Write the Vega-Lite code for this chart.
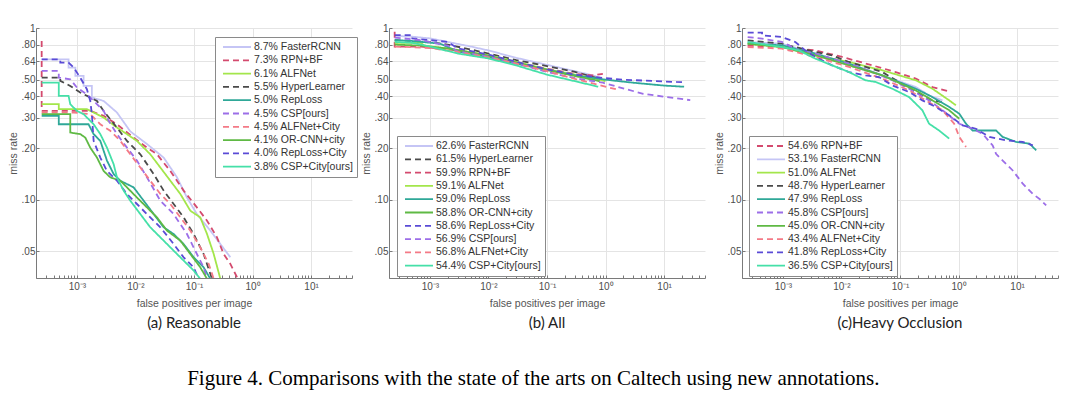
{
"$schema": "https://vega.github.io/schema/vega-lite/v6.json",
"background": "white",
"padding": {"left": 8, "top": 23, "right": 5, "bottom": 2},
"autosize": {"type": "pad"},
"config": {
 "view": {"stroke": null},
 "font": "Liberation Sans",
 "axis": {"labelFont": "Liberation Sans", "labelFontSize": 10, "labelColor": "#4d4d4d", "titleFont": "Liberation Sans", "titleFontSize": 10.5, "titleFontWeight": "normal", "titleColor": "#555555", "domainColor": "#7a7a7a", "tickColor": "#7a7a7a", "gridColor": "#e4e4e4", "gridWidth": 1},
 "title": {"font": "Lato", "fontSize": 15, "fontWeight": "normal", "color": "#222222"}
},
"title": {"text": "Figure 4. Comparisons with the state of the arts on Caltech using new annotations.", "orient": "bottom", "anchor": "middle", "font": "Liberation Serif", "fontSize": 21, "fontWeight": "normal", "color": "#000000", "offset": 37},
"bounds": "flush",
"spacing": 37,
"resolve": {"scale": {"x": "independent", "y": "independent", "color": "independent", "strokeDash": "independent"}, "legend": {"color": "independent", "strokeDash": "independent"}},
"hconcat": [
 {
  "width": 316, "height": 250,
  "title": {"text": "(a) Reasonable", "orient": "bottom", "offset": 7},
  "data": {"name": "a"},
  "mark": {"type": "line", "strokeWidth": 1.8, "clip": true},
  "encoding": {
   "x": {"field": "fppi", "type": "quantitative", "title": "false positives per image", "scale": {"type": "log", "domain": [0.0002, 50], "nice": false},
    "axis": {"values": [0.0002,0.0003,0.0004,0.0005,0.0006,0.0007,0.0008,0.0009,0.001,0.002,0.003,0.004,0.005,0.006,0.007,0.008,0.009,0.01,0.02,0.03,0.04,0.05,0.06,0.07,0.08,0.09,0.1,0.2,0.3,0.4,0.5,0.6,0.7,0.8,0.9,1,2,3,4,5,6,7,8,9,10,20,30,40,50],
     "labelExpr": "datum.value==0.001?'10⁻³':datum.value==0.01?'10⁻²':datum.value==0.1?'10⁻¹':datum.value==1?'10⁰':datum.value==10?'10¹':''",
     "gridOpacity": {"condition": {"test": "datum.value==0.001||datum.value==0.01||datum.value==0.1||datum.value==1||datum.value==10", "value": 1}, "value": 0},
     "tickSize": -3, "labelPadding": 6, "titlePadding": 7, "labelFlush": false, "labelOverlap": false}},
   "y": {"field": "mr", "type": "quantitative", "title": "miss rate", "scale": {"type": "log", "domain": [0.035, 1], "nice": false},
    "axis": {"values": [0.05,0.1,0.2,0.3,0.4,0.5,0.64,0.8,1], "labelExpr": "datum.value==1?'1':replace(format(datum.value,'.2f'),'0.','.')", "tickSize": -3, "labelPadding": 4, "titlePadding": 3, "labelFlush": false, "labelOverlap": false}},
   "color": {"field": "name", "type": "nominal",
    "scale": {"domain": ["8.7% FasterRCNN","7.3% RPN+BF","6.1% ALFNet","5.5% HyperLearner","5.0% RepLoss","4.5% CSP[ours]","4.5% ALFNet+City","4.1% OR-CNN+city","4.0% RepLoss+City","3.8% CSP+City[ours]"],
     "range": ["#c5c5f5","#d44a6e","#a3e64b","#4a4a4a","#2fa898","#9c6ee8","#f47a86","#5fb944","#5a4bd6","#45e0a8"]},
    "legend": {"orient": "none", "legendX": 179, "legendY": 9, "title": null, "symbolType": "M-2.8,0L2.8,0", "symbolSize": 100, "symbolStrokeWidth": 1.8, "labelFont": "Liberation Sans", "labelFontSize": 10.5, "labelColor": "#333333", "strokeColor": "#8a8a8a", "fillColor": "white", "padding": 4, "rowPadding": 1.3, "symbolOffset": 12, "labelOffset": 11, "labelLimit": 300}},
   "strokeDash": {"field": "name", "type": "nominal",
    "scale": {"domain": ["8.7% FasterRCNN","7.3% RPN+BF","6.1% ALFNet","5.5% HyperLearner","5.0% RepLoss","4.5% CSP[ours]","4.5% ALFNet+City","4.1% OR-CNN+city","4.0% RepLoss+City","3.8% CSP+City[ours]"],
     "range": [[1,0],[6,4],[1,0],[6,4],[1,0],[6,4],[6,4],[1,0],[6,4],[1,0]]},
    "legend": {"orient": "none", "legendX": 179, "legendY": 9, "title": null, "symbolType": "M-2.8,0L2.8,0", "symbolSize": 100, "symbolStrokeWidth": 1.8, "labelFont": "Liberation Sans", "labelFontSize": 10.5, "labelColor": "#333333", "strokeColor": "#8a8a8a", "fillColor": "white", "padding": 4, "rowPadding": 1.3, "symbolOffset": 12, "labelOffset": 11, "labelLimit": 300}},
   "order": [{"field": "fppi", "sort": "ascending"}, {"field": "mr", "sort": "descending"}]
  }
 },
 {
  "width": 316, "height": 250,
  "title": {"text": "(b) All", "orient": "bottom", "offset": 7},
  "data": {"name": "b"},
  "mark": {"type": "line", "strokeWidth": 1.8, "clip": true},
  "encoding": {
   "x": {"field": "fppi", "type": "quantitative", "title": "false positives per image", "scale": {"type": "log", "domain": [0.0002, 50], "nice": false},
    "axis": {"values": [0.0002,0.0003,0.0004,0.0005,0.0006,0.0007,0.0008,0.0009,0.001,0.002,0.003,0.004,0.005,0.006,0.007,0.008,0.009,0.01,0.02,0.03,0.04,0.05,0.06,0.07,0.08,0.09,0.1,0.2,0.3,0.4,0.5,0.6,0.7,0.8,0.9,1,2,3,4,5,6,7,8,9,10,20,30,40,50],
     "labelExpr": "datum.value==0.001?'10⁻³':datum.value==0.01?'10⁻²':datum.value==0.1?'10⁻¹':datum.value==1?'10⁰':datum.value==10?'10¹':''",
     "gridOpacity": {"condition": {"test": "datum.value==0.001||datum.value==0.01||datum.value==0.1||datum.value==1||datum.value==10", "value": 1}, "value": 0},
     "tickSize": -3, "labelPadding": 6, "titlePadding": 7, "labelFlush": false, "labelOverlap": false}},
   "y": {"field": "mr", "type": "quantitative", "title": "miss rate", "scale": {"type": "log", "domain": [0.035, 1], "nice": false},
    "axis": {"values": [0.05,0.1,0.2,0.3,0.4,0.5,0.64,0.8,1], "labelExpr": "datum.value==1?'1':replace(format(datum.value,'.2f'),'0.','.')", "tickSize": -3, "labelPadding": 4, "titlePadding": 3, "labelFlush": false, "labelOverlap": false}},
   "color": {"field": "name", "type": "nominal",
    "scale": {"domain": ["62.6% FasterRCNN","61.5% HyperLearner","59.9% RPN+BF","59.1% ALFNet","59.0% RepLoss","58.8% OR-CNN+city","58.6% RepLoss+City","56.9% CSP[ours]","56.8% ALFNet+City","54.4% CSP+City[ours]"],
     "range": ["#c5c5f5","#4a4a4a","#d44a6e","#a3e64b","#2fa898","#5fb944","#5a4bd6","#9c6ee8","#f47a86","#45e0a8"]},
    "legend": {"orient": "none", "legendX": 8, "legendY": 108, "title": null, "symbolType": "M-2.8,0L2.8,0", "symbolSize": 100, "symbolStrokeWidth": 1.8, "labelFont": "Liberation Sans", "labelFontSize": 10.5, "labelColor": "#333333", "strokeColor": "#8a8a8a", "fillColor": "white", "padding": 4, "rowPadding": 1.3, "symbolOffset": 12, "labelOffset": 11, "labelLimit": 300}},
   "strokeDash": {"field": "name", "type": "nominal",
    "scale": {"domain": ["62.6% FasterRCNN","61.5% HyperLearner","59.9% RPN+BF","59.1% ALFNet","59.0% RepLoss","58.8% OR-CNN+city","58.6% RepLoss+City","56.9% CSP[ours]","56.8% ALFNet+City","54.4% CSP+City[ours]"],
     "range": [[1,0],[6,4],[6,4],[1,0],[1,0],[1,0],[6,4],[6,4],[6,4],[1,0]]},
    "legend": {"orient": "none", "legendX": 8, "legendY": 108, "title": null, "symbolType": "M-2.8,0L2.8,0", "symbolSize": 100, "symbolStrokeWidth": 1.8, "labelFont": "Liberation Sans", "labelFontSize": 10.5, "labelColor": "#333333", "strokeColor": "#8a8a8a", "fillColor": "white", "padding": 4, "rowPadding": 1.3, "symbolOffset": 12, "labelOffset": 11, "labelLimit": 300}},
   "order": [{"field": "fppi", "sort": "ascending"}, {"field": "mr", "sort": "descending"}]
  }
 },
 {
  "width": 316, "height": 250,
  "title": {"text": "(c)Heavy Occlusion", "orient": "bottom", "offset": 7},
  "data": {"name": "c"},
  "mark": {"type": "line", "strokeWidth": 1.8, "clip": true},
  "encoding": {
   "x": {"field": "fppi", "type": "quantitative", "title": "false positives per image", "scale": {"type": "log", "domain": [0.0002, 50], "nice": false},
    "axis": {"values": [0.0002,0.0003,0.0004,0.0005,0.0006,0.0007,0.0008,0.0009,0.001,0.002,0.003,0.004,0.005,0.006,0.007,0.008,0.009,0.01,0.02,0.03,0.04,0.05,0.06,0.07,0.08,0.09,0.1,0.2,0.3,0.4,0.5,0.6,0.7,0.8,0.9,1,2,3,4,5,6,7,8,9,10,20,30,40,50],
     "labelExpr": "datum.value==0.001?'10⁻³':datum.value==0.01?'10⁻²':datum.value==0.1?'10⁻¹':datum.value==1?'10⁰':datum.value==10?'10¹':''",
     "gridOpacity": {"condition": {"test": "datum.value==0.001||datum.value==0.01||datum.value==0.1||datum.value==1||datum.value==10", "value": 1}, "value": 0},
     "tickSize": -3, "labelPadding": 6, "titlePadding": 7, "labelFlush": false, "labelOverlap": false}},
   "y": {"field": "mr", "type": "quantitative", "title": "miss rate", "scale": {"type": "log", "domain": [0.035, 1], "nice": false},
    "axis": {"values": [0.05,0.1,0.2,0.3,0.4,0.5,0.64,0.8,1], "labelExpr": "datum.value==1?'1':replace(format(datum.value,'.2f'),'0.','.')", "tickSize": -3, "labelPadding": 4, "titlePadding": 3, "labelFlush": false, "labelOverlap": false}},
   "color": {"field": "name", "type": "nominal",
    "scale": {"domain": ["54.6% RPN+BF","53.1% FasterRCNN","51.0% ALFNet","48.7% HyperLearner","47.9% RepLoss","45.8% CSP[ours]","45.0% OR-CNN+city","43.4% ALFNet+City","41.8% RepLoss+City","36.5% CSP+City[ours]"],
     "range": ["#d44a6e","#c5c5f5","#a3e64b","#4a4a4a","#2fa898","#9c6ee8","#5fb944","#f47a86","#5a4bd6","#45e0a8"]},
    "legend": {"orient": "none", "legendX": 7, "legendY": 108, "title": null, "symbolType": "M-2.8,0L2.8,0", "symbolSize": 100, "symbolStrokeWidth": 1.8, "labelFont": "Liberation Sans", "labelFontSize": 10.5, "labelColor": "#333333", "strokeColor": "#8a8a8a", "fillColor": "white", "padding": 4, "rowPadding": 1.3, "symbolOffset": 12, "labelOffset": 11, "labelLimit": 300}},
   "strokeDash": {"field": "name", "type": "nominal",
    "scale": {"domain": ["54.6% RPN+BF","53.1% FasterRCNN","51.0% ALFNet","48.7% HyperLearner","47.9% RepLoss","45.8% CSP[ours]","45.0% OR-CNN+city","43.4% ALFNet+City","41.8% RepLoss+City","36.5% CSP+City[ours]"],
     "range": [[6,4],[1,0],[1,0],[6,4],[1,0],[6,4],[1,0],[6,4],[6,4],[1,0]]},
    "legend": {"orient": "none", "legendX": 7, "legendY": 108, "title": null, "symbolType": "M-2.8,0L2.8,0", "symbolSize": 100, "symbolStrokeWidth": 1.8, "labelFont": "Liberation Sans", "labelFontSize": 10.5, "labelColor": "#333333", "strokeColor": "#8a8a8a", "fillColor": "white", "padding": 4, "rowPadding": 1.3, "symbolOffset": 12, "labelOffset": 11, "labelLimit": 300}},
   "order": [{"field": "fppi", "sort": "ascending"}, {"field": "mr", "sort": "descending"}]
  }
 }
],
"datasets": {
 "a": [
  {"name":"8.7% FasterRCNN","fppi":0.00025,"mr":0.657},{"name":"8.7% FasterRCNN","fppi":0.00072,"mr":0.657},{"name":"8.7% FasterRCNN","fppi":0.00072,"mr":0.588},{"name":"8.7% FasterRCNN","fppi":0.00094,"mr":0.588},{"name":"8.7% FasterRCNN","fppi":0.00094,"mr":0.526},{"name":"8.7% FasterRCNN","fppi":0.0013,"mr":0.526},{"name":"8.7% FasterRCNN","fppi":0.0013,"mr":0.46},{"name":"8.7% FasterRCNN","fppi":0.0018,"mr":0.46},{"name":"8.7% FasterRCNN","fppi":0.0018,"mr":0.394},{"name":"8.7% FasterRCNN","fppi":0.00286,"mr":0.376},{"name":"8.7% FasterRCNN","fppi":0.00483,"mr":0.322},{"name":"8.7% FasterRCNN","fppi":0.00816,"mr":0.25},{"name":"8.7% FasterRCNN","fppi":0.0157,"mr":0.211},{"name":"8.7% FasterRCNN","fppi":0.0303,"mr":0.176},{"name":"8.7% FasterRCNN","fppi":0.0512,"mr":0.135},{"name":"8.7% FasterRCNN","fppi":0.0759,"mr":0.103},{"name":"8.7% FasterRCNN","fppi":0.112,"mr":0.0825},{"name":"8.7% FasterRCNN","fppi":0.19,"mr":0.0661},{"name":"8.7% FasterRCNN","fppi":0.282,"mr":0.0552},{"name":"8.7% FasterRCNN","fppi":0.418,"mr":0.0462},
  {"name":"7.3% RPN+BF","fppi":0.00025,"mr":0.84},{"name":"7.3% RPN+BF","fppi":0.00025,"mr":0.329},{"name":"7.3% RPN+BF","fppi":0.00169,"mr":0.329},{"name":"7.3% RPN+BF","fppi":0.00286,"mr":0.308},{"name":"7.3% RPN+BF","fppi":0.00483,"mr":0.275},{"name":"7.3% RPN+BF","fppi":0.0093,"mr":0.23},{"name":"7.3% RPN+BF","fppi":0.0157,"mr":0.201},{"name":"7.3% RPN+BF","fppi":0.0233,"mr":0.184},{"name":"7.3% RPN+BF","fppi":0.0394,"mr":0.147},{"name":"7.3% RPN+BF","fppi":0.0665,"mr":0.113},{"name":"7.3% RPN+BF","fppi":0.112,"mr":0.0902},{"name":"7.3% RPN+BF","fppi":0.167,"mr":0.0755},{"name":"7.3% RPN+BF","fppi":0.247,"mr":0.0604},{"name":"7.3% RPN+BF","fppi":0.321,"mr":0.0483},{"name":"7.3% RPN+BF","fppi":0.418,"mr":0.0423},{"name":"7.3% RPN+BF","fppi":0.58,"mr":0.0338},
  {"name":"6.1% ALFNet","fppi":0.00025,"mr":0.36},{"name":"6.1% ALFNet","fppi":0.00049,"mr":0.36},{"name":"6.1% ALFNet","fppi":0.00049,"mr":0.337},{"name":"6.1% ALFNet","fppi":0.00148,"mr":0.337},{"name":"6.1% ALFNet","fppi":0.00193,"mr":0.322},{"name":"6.1% ALFNet","fppi":0.00286,"mr":0.301},{"name":"6.1% ALFNet","fppi":0.00483,"mr":0.263},{"name":"6.1% ALFNet","fppi":0.00716,"mr":0.241},{"name":"6.1% ALFNet","fppi":0.0106,"mr":0.22},{"name":"6.1% ALFNet","fppi":0.0179,"mr":0.184},{"name":"6.1% ALFNet","fppi":0.0266,"mr":0.154},{"name":"6.1% ALFNet","fppi":0.0394,"mr":0.129},{"name":"6.1% ALFNet","fppi":0.0584,"mr":0.108},{"name":"6.1% ALFNet","fppi":0.0865,"mr":0.0863},{"name":"6.1% ALFNet","fppi":0.128,"mr":0.0789},{"name":"6.1% ALFNet","fppi":0.167,"mr":0.0631},{"name":"6.1% ALFNet","fppi":0.217,"mr":0.0483},{"name":"6.1% ALFNet","fppi":0.282,"mr":0.0346},
  {"name":"5.5% HyperLearner","fppi":0.00025,"mr":0.514},{"name":"5.5% HyperLearner","fppi":0.00052,"mr":0.514},{"name":"5.5% HyperLearner","fppi":0.00052,"mr":0.492},{"name":"5.5% HyperLearner","fppi":0.00077,"mr":0.46},{"name":"5.5% HyperLearner","fppi":0.00114,"mr":0.421},{"name":"5.5% HyperLearner","fppi":0.00169,"mr":0.394},{"name":"5.5% HyperLearner","fppi":0.0022,"mr":0.376},{"name":"5.5% HyperLearner","fppi":0.00286,"mr":0.329},{"name":"5.5% HyperLearner","fppi":0.00371,"mr":0.294},{"name":"5.5% HyperLearner","fppi":0.00483,"mr":0.263},{"name":"5.5% HyperLearner","fppi":0.00716,"mr":0.22},{"name":"5.5% HyperLearner","fppi":0.0121,"mr":0.184},{"name":"5.5% HyperLearner","fppi":0.0205,"mr":0.141},{"name":"5.5% HyperLearner","fppi":0.0303,"mr":0.113},{"name":"5.5% HyperLearner","fppi":0.0449,"mr":0.0944},{"name":"5.5% HyperLearner","fppi":0.0665,"mr":0.0789},{"name":"5.5% HyperLearner","fppi":0.0986,"mr":0.0631},{"name":"5.5% HyperLearner","fppi":0.146,"mr":0.0483},{"name":"5.5% HyperLearner","fppi":0.203,"mr":0.0346},
  {"name":"5.0% RepLoss","fppi":0.00025,"mr":0.308},{"name":"5.0% RepLoss","fppi":0.00049,"mr":0.308},{"name":"5.0% RepLoss","fppi":0.00049,"mr":0.275},{"name":"5.0% RepLoss","fppi":0.00158,"mr":0.275},{"name":"5.0% RepLoss","fppi":0.00193,"mr":0.241},{"name":"5.0% RepLoss","fppi":0.00251,"mr":0.22},{"name":"5.0% RepLoss","fppi":0.00326,"mr":0.169},{"name":"5.0% RepLoss","fppi":0.00424,"mr":0.141},{"name":"5.0% RepLoss","fppi":0.00551,"mr":0.129},{"name":"5.0% RepLoss","fppi":0.0093,"mr":0.118},{"name":"5.0% RepLoss","fppi":0.0138,"mr":0.0987},{"name":"5.0% RepLoss","fppi":0.0205,"mr":0.0825},{"name":"5.0% RepLoss","fppi":0.0303,"mr":0.0691},{"name":"5.0% RepLoss","fppi":0.0449,"mr":0.0631},{"name":"5.0% RepLoss","fppi":0.0665,"mr":0.0552},{"name":"5.0% RepLoss","fppi":0.0986,"mr":0.0462},{"name":"5.0% RepLoss","fppi":0.146,"mr":0.0404},{"name":"5.0% RepLoss","fppi":0.19,"mr":0.0346},
  {"name":"4.5% CSP[ours]","fppi":0.00025,"mr":0.562},{"name":"4.5% CSP[ours]","fppi":0.00049,"mr":0.562},{"name":"4.5% CSP[ours]","fppi":0.00049,"mr":0.514},{"name":"4.5% CSP[ours]","fppi":0.00077,"mr":0.503},{"name":"4.5% CSP[ours]","fppi":0.001,"mr":0.45},{"name":"4.5% CSP[ours]","fppi":0.00148,"mr":0.411},{"name":"4.5% CSP[ours]","fppi":0.00193,"mr":0.376},{"name":"4.5% CSP[ours]","fppi":0.00286,"mr":0.329},{"name":"4.5% CSP[ours]","fppi":0.00348,"mr":0.288},{"name":"4.5% CSP[ours]","fppi":0.00483,"mr":0.241},{"name":"4.5% CSP[ours]","fppi":0.00716,"mr":0.201},{"name":"4.5% CSP[ours]","fppi":0.0106,"mr":0.169},{"name":"4.5% CSP[ours]","fppi":0.0157,"mr":0.135},{"name":"4.5% CSP[ours]","fppi":0.0266,"mr":0.0987},{"name":"4.5% CSP[ours]","fppi":0.0449,"mr":0.0825},{"name":"4.5% CSP[ours]","fppi":0.0759,"mr":0.0631},{"name":"4.5% CSP[ours]","fppi":0.112,"mr":0.0483},{"name":"4.5% CSP[ours]","fppi":0.146,"mr":0.0404},{"name":"4.5% CSP[ours]","fppi":0.167,"mr":0.0346},
  {"name":"4.5% ALFNet+City","fppi":0.00025,"mr":0.322},{"name":"4.5% ALFNet+City","fppi":0.00088,"mr":0.322},{"name":"4.5% ALFNet+City","fppi":0.00169,"mr":0.315},{"name":"4.5% ALFNet+City","fppi":0.00251,"mr":0.275},{"name":"4.5% ALFNet+City","fppi":0.00371,"mr":0.252},{"name":"4.5% ALFNet+City","fppi":0.00551,"mr":0.22},{"name":"4.5% ALFNet+City","fppi":0.00816,"mr":0.184},{"name":"4.5% ALFNet+City","fppi":0.0121,"mr":0.154},{"name":"4.5% ALFNet+City","fppi":0.0179,"mr":0.129},{"name":"4.5% ALFNet+City","fppi":0.0266,"mr":0.108},{"name":"4.5% ALFNet+City","fppi":0.0394,"mr":0.0944},{"name":"4.5% ALFNet+City","fppi":0.0584,"mr":0.0789},{"name":"4.5% ALFNet+City","fppi":0.0865,"mr":0.0661},{"name":"4.5% ALFNet+City","fppi":0.128,"mr":0.0528},{"name":"4.5% ALFNet+City","fppi":0.178,"mr":0.0423},{"name":"4.5% ALFNet+City","fppi":0.217,"mr":0.0346},
  {"name":"4.1% OR-CNN+city","fppi":0.00025,"mr":0.315},{"name":"4.1% OR-CNN+city","fppi":0.00077,"mr":0.315},{"name":"4.1% OR-CNN+city","fppi":0.00077,"mr":0.246},{"name":"4.1% OR-CNN+city","fppi":0.00114,"mr":0.241},{"name":"4.1% OR-CNN+city","fppi":0.00139,"mr":0.23},{"name":"4.1% OR-CNN+city","fppi":0.00169,"mr":0.201},{"name":"4.1% OR-CNN+city","fppi":0.0022,"mr":0.176},{"name":"4.1% OR-CNN+city","fppi":0.00286,"mr":0.147},{"name":"4.1% OR-CNN+city","fppi":0.00371,"mr":0.135},{"name":"4.1% OR-CNN+city","fppi":0.00551,"mr":0.129},{"name":"4.1% OR-CNN+city","fppi":0.00716,"mr":0.118},{"name":"4.1% OR-CNN+city","fppi":0.0106,"mr":0.103},{"name":"4.1% OR-CNN+city","fppi":0.0157,"mr":0.0902},{"name":"4.1% OR-CNN+city","fppi":0.0233,"mr":0.0789},{"name":"4.1% OR-CNN+city","fppi":0.0345,"mr":0.0661},{"name":"4.1% OR-CNN+city","fppi":0.0584,"mr":0.0578},{"name":"4.1% OR-CNN+city","fppi":0.0865,"mr":0.0483},{"name":"4.1% OR-CNN+city","fppi":0.128,"mr":0.0404},{"name":"4.1% OR-CNN+city","fppi":0.167,"mr":0.0346},
  {"name":"4.0% RepLoss+City","fppi":0.00025,"mr":0.657},{"name":"4.0% RepLoss+City","fppi":0.00052,"mr":0.657},{"name":"4.0% RepLoss+City","fppi":0.00052,"mr":0.629},{"name":"4.0% RepLoss+City","fppi":0.00072,"mr":0.629},{"name":"4.0% RepLoss+City","fppi":0.00088,"mr":0.588},{"name":"4.0% RepLoss+City","fppi":0.00114,"mr":0.514},{"name":"4.0% RepLoss+City","fppi":0.00148,"mr":0.44},{"name":"4.0% RepLoss+City","fppi":0.00169,"mr":0.376},{"name":"4.0% RepLoss+City","fppi":0.0018,"mr":0.315},{"name":"4.0% RepLoss+City","fppi":0.00193,"mr":0.22},{"name":"4.0% RepLoss+City","fppi":0.00251,"mr":0.176},{"name":"4.0% RepLoss+City","fppi":0.00326,"mr":0.147},{"name":"4.0% RepLoss+City","fppi":0.00483,"mr":0.129},{"name":"4.0% RepLoss+City","fppi":0.00716,"mr":0.108},{"name":"4.0% RepLoss+City","fppi":0.0106,"mr":0.0944},{"name":"4.0% RepLoss+City","fppi":0.0157,"mr":0.0825},{"name":"4.0% RepLoss+City","fppi":0.0266,"mr":0.0691},{"name":"4.0% RepLoss+City","fppi":0.0449,"mr":0.0552},{"name":"4.0% RepLoss+City","fppi":0.0665,"mr":0.0462},{"name":"4.0% RepLoss+City","fppi":0.0986,"mr":0.0404},{"name":"4.0% RepLoss+City","fppi":0.12,"mr":0.0346},
  {"name":"3.8% CSP+City[ours]","fppi":0.00025,"mr":0.481},{"name":"3.8% CSP+City[ours]","fppi":0.00049,"mr":0.481},{"name":"3.8% CSP+City[ours]","fppi":0.00049,"mr":0.402},{"name":"3.8% CSP+City[ours]","fppi":0.00072,"mr":0.402},{"name":"3.8% CSP+City[ours]","fppi":0.00077,"mr":0.36},{"name":"3.8% CSP+City[ours]","fppi":0.001,"mr":0.329},{"name":"3.8% CSP+City[ours]","fppi":0.0013,"mr":0.315},{"name":"3.8% CSP+City[ours]","fppi":0.00193,"mr":0.275},{"name":"3.8% CSP+City[ours]","fppi":0.00251,"mr":0.241},{"name":"3.8% CSP+City[ours]","fppi":0.00326,"mr":0.201},{"name":"3.8% CSP+City[ours]","fppi":0.00424,"mr":0.161},{"name":"3.8% CSP+City[ours]","fppi":0.00483,"mr":0.135},{"name":"3.8% CSP+City[ours]","fppi":0.00628,"mr":0.113},{"name":"3.8% CSP+City[ours]","fppi":0.00816,"mr":0.0987},{"name":"3.8% CSP+City[ours]","fppi":0.0121,"mr":0.0825},{"name":"3.8% CSP+City[ours]","fppi":0.0179,"mr":0.0691},{"name":"3.8% CSP+City[ours]","fppi":0.0266,"mr":0.0604},{"name":"3.8% CSP+City[ours]","fppi":0.0449,"mr":0.0505},{"name":"3.8% CSP+City[ours]","fppi":0.0665,"mr":0.0442},{"name":"3.8% CSP+City[ours]","fppi":0.0986,"mr":0.0387},{"name":"3.8% CSP+City[ours]","fppi":0.128,"mr":0.0346}
 ],
 "b": [
  {"name":"62.6% FasterRCNN","fppi":0.00025,"mr":0.9},{"name":"62.6% FasterRCNN","fppi":0.0005,"mr":0.89},{"name":"62.6% FasterRCNN","fppi":0.001,"mr":0.87},{"name":"62.6% FasterRCNN","fppi":0.002,"mr":0.83},{"name":"62.6% FasterRCNN","fppi":0.005,"mr":0.78},{"name":"62.6% FasterRCNN","fppi":0.01,"mr":0.74},{"name":"62.6% FasterRCNN","fppi":0.03,"mr":0.67},{"name":"62.6% FasterRCNN","fppi":0.1,"mr":0.61},{"name":"62.6% FasterRCNN","fppi":0.3,"mr":0.56},{"name":"62.6% FasterRCNN","fppi":0.6,"mr":0.53},{"name":"62.6% FasterRCNN","fppi":0.85,"mr":0.51},
  {"name":"61.5% HyperLearner","fppi":0.00025,"mr":0.85},{"name":"61.5% HyperLearner","fppi":0.0005,"mr":0.84},{"name":"61.5% HyperLearner","fppi":0.001,"mr":0.83},{"name":"61.5% HyperLearner","fppi":0.002,"mr":0.8},{"name":"61.5% HyperLearner","fppi":0.005,"mr":0.75},{"name":"61.5% HyperLearner","fppi":0.01,"mr":0.71},{"name":"61.5% HyperLearner","fppi":0.03,"mr":0.65},{"name":"61.5% HyperLearner","fppi":0.1,"mr":0.6},{"name":"61.5% HyperLearner","fppi":0.3,"mr":0.555},{"name":"61.5% HyperLearner","fppi":0.6,"mr":0.52},{"name":"61.5% HyperLearner","fppi":0.75,"mr":0.51},
  {"name":"59.9% RPN+BF","fppi":0.00025,"mr":0.95},{"name":"59.9% RPN+BF","fppi":0.00025,"mr":0.78},{"name":"59.9% RPN+BF","fppi":0.0007,"mr":0.78},{"name":"59.9% RPN+BF","fppi":0.001,"mr":0.77},{"name":"59.9% RPN+BF","fppi":0.003,"mr":0.74},{"name":"59.9% RPN+BF","fppi":0.01,"mr":0.69},{"name":"59.9% RPN+BF","fppi":0.03,"mr":0.63},{"name":"59.9% RPN+BF","fppi":0.1,"mr":0.58},{"name":"59.9% RPN+BF","fppi":0.3,"mr":0.54},{"name":"59.9% RPN+BF","fppi":0.6,"mr":0.53},{"name":"59.9% RPN+BF","fppi":0.9,"mr":0.54},
  {"name":"59.1% ALFNet","fppi":0.00025,"mr":0.82},{"name":"59.1% ALFNet","fppi":0.0007,"mr":0.82},{"name":"59.1% ALFNet","fppi":0.0008,"mr":0.79},{"name":"59.1% ALFNet","fppi":0.003,"mr":0.745},{"name":"59.1% ALFNet","fppi":0.01,"mr":0.695},{"name":"59.1% ALFNet","fppi":0.03,"mr":0.635},{"name":"59.1% ALFNet","fppi":0.1,"mr":0.575},{"name":"59.1% ALFNet","fppi":0.3,"mr":0.535},{"name":"59.1% ALFNet","fppi":0.7,"mr":0.505},{"name":"59.1% ALFNet","fppi":1.0,"mr":0.49},
  {"name":"59.0% RepLoss","fppi":0.00025,"mr":0.85},{"name":"59.0% RepLoss","fppi":0.0005,"mr":0.84},{"name":"59.0% RepLoss","fppi":0.0015,"mr":0.81},{"name":"59.0% RepLoss","fppi":0.003,"mr":0.73},{"name":"59.0% RepLoss","fppi":0.01,"mr":0.675},{"name":"59.0% RepLoss","fppi":0.03,"mr":0.62},{"name":"59.0% RepLoss","fppi":0.1,"mr":0.57},{"name":"59.0% RepLoss","fppi":0.3,"mr":0.53},{"name":"59.0% RepLoss","fppi":1,"mr":0.5},{"name":"59.0% RepLoss","fppi":3,"mr":0.48},{"name":"59.0% RepLoss","fppi":10,"mr":0.462},{"name":"59.0% RepLoss","fppi":22,"mr":0.455},
  {"name":"58.8% OR-CNN+city","fppi":0.00025,"mr":0.8},{"name":"58.8% OR-CNN+city","fppi":0.0007,"mr":0.79},{"name":"58.8% OR-CNN+city","fppi":0.002,"mr":0.76},{"name":"58.8% OR-CNN+city","fppi":0.005,"mr":0.72},{"name":"58.8% OR-CNN+city","fppi":0.01,"mr":0.69},{"name":"58.8% OR-CNN+city","fppi":0.03,"mr":0.63},{"name":"58.8% OR-CNN+city","fppi":0.1,"mr":0.57},{"name":"58.8% OR-CNN+city","fppi":0.3,"mr":0.525},{"name":"58.8% OR-CNN+city","fppi":0.8,"mr":0.49},
  {"name":"58.6% RepLoss+City","fppi":0.00025,"mr":0.91},{"name":"58.6% RepLoss+City","fppi":0.0005,"mr":0.91},{"name":"58.6% RepLoss+City","fppi":0.0005,"mr":0.87},{"name":"58.6% RepLoss+City","fppi":0.002,"mr":0.83},{"name":"58.6% RepLoss+City","fppi":0.003,"mr":0.76},{"name":"58.6% RepLoss+City","fppi":0.01,"mr":0.7},{"name":"58.6% RepLoss+City","fppi":0.03,"mr":0.635},{"name":"58.6% RepLoss+City","fppi":0.1,"mr":0.575},{"name":"58.6% RepLoss+City","fppi":0.3,"mr":0.535},{"name":"58.6% RepLoss+City","fppi":1,"mr":0.51},{"name":"58.6% RepLoss+City","fppi":2,"mr":0.5},{"name":"58.6% RepLoss+City","fppi":16,"mr":0.485},{"name":"58.6% RepLoss+City","fppi":22,"mr":0.484},
  {"name":"56.9% CSP[ours]","fppi":0.00025,"mr":0.88},{"name":"56.9% CSP[ours]","fppi":0.0007,"mr":0.85},{"name":"56.9% CSP[ours]","fppi":0.002,"mr":0.79},{"name":"56.9% CSP[ours]","fppi":0.003,"mr":0.73},{"name":"56.9% CSP[ours]","fppi":0.01,"mr":0.68},{"name":"56.9% CSP[ours]","fppi":0.03,"mr":0.62},{"name":"56.9% CSP[ours]","fppi":0.1,"mr":0.555},{"name":"56.9% CSP[ours]","fppi":0.3,"mr":0.51},{"name":"56.9% CSP[ours]","fppi":0.9,"mr":0.48},{"name":"56.9% CSP[ours]","fppi":2,"mr":0.445},{"name":"56.9% CSP[ours]","fppi":4.4,"mr":0.414},{"name":"56.9% CSP[ours]","fppi":10,"mr":0.398},{"name":"56.9% CSP[ours]","fppi":28,"mr":0.38},
  {"name":"56.8% ALFNet+City","fppi":0.00025,"mr":0.78},{"name":"56.8% ALFNet+City","fppi":0.001,"mr":0.765},{"name":"56.8% ALFNet+City","fppi":0.003,"mr":0.725},{"name":"56.8% ALFNet+City","fppi":0.01,"mr":0.675},{"name":"56.8% ALFNet+City","fppi":0.03,"mr":0.62},{"name":"56.8% ALFNet+City","fppi":0.1,"mr":0.56},{"name":"56.8% ALFNet+City","fppi":0.3,"mr":0.505},{"name":"56.8% ALFNet+City","fppi":0.7,"mr":0.47},{"name":"56.8% ALFNet+City","fppi":1.5,"mr":0.44},
  {"name":"54.4% CSP+City[ours]","fppi":0.00025,"mr":0.83},{"name":"54.4% CSP+City[ours]","fppi":0.0005,"mr":0.82},{"name":"54.4% CSP+City[ours]","fppi":0.001,"mr":0.78},{"name":"54.4% CSP+City[ours]","fppi":0.003,"mr":0.71},{"name":"54.4% CSP+City[ours]","fppi":0.01,"mr":0.665},{"name":"54.4% CSP+City[ours]","fppi":0.03,"mr":0.605},{"name":"54.4% CSP+City[ours]","fppi":0.1,"mr":0.535},{"name":"54.4% CSP+City[ours]","fppi":0.3,"mr":0.49},{"name":"54.4% CSP+City[ours]","fppi":0.75,"mr":0.455}
 ],
 "c": [
  {"name":"54.6% RPN+BF","fppi":0.00025,"mr":0.79},{"name":"54.6% RPN+BF","fppi":0.00096,"mr":0.775},{"name":"54.6% RPN+BF","fppi":0.00358,"mr":0.741},{"name":"54.6% RPN+BF","fppi":0.0103,"mr":0.678},{"name":"54.6% RPN+BF","fppi":0.0336,"mr":0.606},{"name":"54.6% RPN+BF","fppi":0.0843,"mr":0.554},{"name":"54.6% RPN+BF","fppi":0.186,"mr":0.507},{"name":"54.6% RPN+BF","fppi":0.358,"mr":0.453},{"name":"54.6% RPN+BF","fppi":0.648,"mr":0.43},
  {"name":"53.1% FasterRCNN","fppi":0.00025,"mr":0.829},{"name":"53.1% FasterRCNN","fppi":0.00096,"mr":0.81},{"name":"53.1% FasterRCNN","fppi":0.00358,"mr":0.709},{"name":"53.1% FasterRCNN","fppi":0.0134,"mr":0.606},{"name":"53.1% FasterRCNN","fppi":0.0498,"mr":0.53},{"name":"53.1% FasterRCNN","fppi":0.186,"mr":0.453},{"name":"53.1% FasterRCNN","fppi":0.314,"mr":0.405},{"name":"53.1% FasterRCNN","fppi":0.532,"mr":0.379},
  {"name":"51.0% ALFNet","fppi":0.00025,"mr":0.81},{"name":"51.0% ALFNet","fppi":0.00096,"mr":0.775},{"name":"51.0% ALFNet","fppi":0.00358,"mr":0.693},{"name":"51.0% ALFNet","fppi":0.0134,"mr":0.634},{"name":"51.0% ALFNet","fppi":0.0498,"mr":0.567},{"name":"51.0% ALFNet","fppi":0.186,"mr":0.496},{"name":"51.0% ALFNet","fppi":0.358,"mr":0.443},{"name":"51.0% ALFNet","fppi":0.692,"mr":0.379},{"name":"51.0% ALFNet","fppi":0.9,"mr":0.355},
  {"name":"48.7% HyperLearner","fppi":0.00025,"mr":0.848},{"name":"48.7% HyperLearner","fppi":0.00096,"mr":0.81},{"name":"48.7% HyperLearner","fppi":0.00358,"mr":0.725},{"name":"48.7% HyperLearner","fppi":0.00692,"mr":0.693},{"name":"48.7% HyperLearner","fppi":0.0134,"mr":0.634},{"name":"48.7% HyperLearner","fppi":0.0258,"mr":0.593},{"name":"48.7% HyperLearner","fppi":0.0498,"mr":0.554},{"name":"48.7% HyperLearner","fppi":0.0962,"mr":0.485},{"name":"48.7% HyperLearner","fppi":0.186,"mr":0.424},{"name":"48.7% HyperLearner","fppi":0.358,"mr":0.379},{"name":"48.7% HyperLearner","fppi":0.532,"mr":0.37},
  {"name":"47.9% RepLoss","fppi":0.00025,"mr":0.81},{"name":"47.9% RepLoss","fppi":0.00096,"mr":0.793},{"name":"47.9% RepLoss","fppi":0.00358,"mr":0.709},{"name":"47.9% RepLoss","fppi":0.0134,"mr":0.62},{"name":"47.9% RepLoss","fppi":0.0498,"mr":0.53},{"name":"47.9% RepLoss","fppi":0.186,"mr":0.443},{"name":"47.9% RepLoss","fppi":0.358,"mr":0.396},{"name":"47.9% RepLoss","fppi":0.692,"mr":0.347},{"name":"47.9% RepLoss","fppi":1.03,"mr":0.317},{"name":"47.9% RepLoss","fppi":1.34,"mr":0.277},{"name":"47.9% RepLoss","fppi":1.74,"mr":0.253},{"name":"47.9% RepLoss","fppi":4.37,"mr":0.253},{"name":"47.9% RepLoss","fppi":5.68,"mr":0.232},{"name":"47.9% RepLoss","fppi":9.62,"mr":0.217},{"name":"47.9% RepLoss","fppi":16.3,"mr":0.212},{"name":"47.9% RepLoss","fppi":21.2,"mr":0.194},
  {"name":"45.8% CSP[ours]","fppi":0.00025,"mr":0.886},{"name":"45.8% CSP[ours]","fppi":0.00044,"mr":0.867},{"name":"45.8% CSP[ours]","fppi":0.00096,"mr":0.829},{"name":"45.8% CSP[ours]","fppi":0.00186,"mr":0.741},{"name":"45.8% CSP[ours]","fppi":0.00358,"mr":0.709},{"name":"45.8% CSP[ours]","fppi":0.0134,"mr":0.62},{"name":"45.8% CSP[ours]","fppi":0.0336,"mr":0.554},{"name":"45.8% CSP[ours]","fppi":0.0739,"mr":0.496},{"name":"45.8% CSP[ours]","fppi":0.143,"mr":0.443},{"name":"45.8% CSP[ours]","fppi":0.314,"mr":0.379},{"name":"45.8% CSP[ours]","fppi":0.532,"mr":0.332},{"name":"45.8% CSP[ours]","fppi":1.03,"mr":0.277},{"name":"45.8% CSP[ours]","fppi":1.74,"mr":0.259},{"name":"45.8% CSP[ours]","fppi":2.58,"mr":0.242},{"name":"45.8% CSP[ours]","fppi":3.83,"mr":0.207},{"name":"45.8% CSP[ours]","fppi":4.37,"mr":0.185},{"name":"45.8% CSP[ours]","fppi":5.68,"mr":0.169},{"name":"45.8% CSP[ours]","fppi":8.43,"mr":0.148},{"name":"45.8% CSP[ours]","fppi":12.5,"mr":0.124},{"name":"45.8% CSP[ours]","fppi":18.6,"mr":0.108},{"name":"45.8% CSP[ours]","fppi":24.2,"mr":0.101},{"name":"45.8% CSP[ours]","fppi":31.4,"mr":0.0927},
  {"name":"45.0% OR-CNN+city","fppi":0.00025,"mr":0.81},{"name":"45.0% OR-CNN+city","fppi":0.00096,"mr":0.775},{"name":"45.0% OR-CNN+city","fppi":0.00358,"mr":0.693},{"name":"45.0% OR-CNN+city","fppi":0.0134,"mr":0.606},{"name":"45.0% OR-CNN+city","fppi":0.0498,"mr":0.53},{"name":"45.0% OR-CNN+city","fppi":0.186,"mr":0.433},{"name":"45.0% OR-CNN+city","fppi":0.358,"mr":0.379},{"name":"45.0% OR-CNN+city","fppi":0.692,"mr":0.332},{"name":"45.0% OR-CNN+city","fppi":1.03,"mr":0.296},
  {"name":"43.4% ALFNet+City","fppi":0.00025,"mr":0.775},{"name":"43.4% ALFNet+City","fppi":0.00096,"mr":0.758},{"name":"43.4% ALFNet+City","fppi":0.00358,"mr":0.678},{"name":"43.4% ALFNet+City","fppi":0.0134,"mr":0.593},{"name":"43.4% ALFNet+City","fppi":0.0498,"mr":0.507},{"name":"43.4% ALFNet+City","fppi":0.143,"mr":0.433},{"name":"43.4% ALFNet+City","fppi":0.275,"mr":0.379},{"name":"43.4% ALFNet+City","fppi":0.532,"mr":0.332},{"name":"43.4% ALFNet+City","fppi":0.843,"mr":0.277},{"name":"43.4% ALFNet+City","fppi":1.03,"mr":0.232},{"name":"43.4% ALFNet+City","fppi":1.34,"mr":0.203},
  {"name":"41.8% RepLoss+City","fppi":0.00025,"mr":0.939},{"name":"41.8% RepLoss+City","fppi":0.00044,"mr":0.939},{"name":"41.8% RepLoss+City","fppi":0.00044,"mr":0.906},{"name":"41.8% RepLoss+City","fppi":0.00096,"mr":0.886},{"name":"41.8% RepLoss+City","fppi":0.00163,"mr":0.829},{"name":"41.8% RepLoss+City","fppi":0.00241,"mr":0.741},{"name":"41.8% RepLoss+City","fppi":0.00358,"mr":0.678},{"name":"41.8% RepLoss+City","fppi":0.00692,"mr":0.606},{"name":"41.8% RepLoss+City","fppi":0.0134,"mr":0.554},{"name":"41.8% RepLoss+City","fppi":0.0258,"mr":0.53},{"name":"41.8% RepLoss+City","fppi":0.0437,"mr":0.518},{"name":"41.8% RepLoss+City","fppi":0.0739,"mr":0.463},{"name":"41.8% RepLoss+City","fppi":0.143,"mr":0.424},{"name":"41.8% RepLoss+City","fppi":0.241,"mr":0.379},{"name":"41.8% RepLoss+City","fppi":0.409,"mr":0.347},{"name":"41.8% RepLoss+City","fppi":0.692,"mr":0.31},{"name":"41.8% RepLoss+City","fppi":1.17,"mr":0.271},{"name":"41.8% RepLoss+City","fppi":1.98,"mr":0.259},{"name":"41.8% RepLoss+City","fppi":3.36,"mr":0.232},{"name":"41.8% RepLoss+City","fppi":6.48,"mr":0.222},{"name":"41.8% RepLoss+City","fppi":12.5,"mr":0.217},{"name":"41.8% RepLoss+City","fppi":18.6,"mr":0.207},
  {"name":"36.5% CSP+City[ours]","fppi":0.00025,"mr":0.829},{"name":"36.5% CSP+City[ours]","fppi":0.00096,"mr":0.775},{"name":"36.5% CSP+City[ours]","fppi":0.00186,"mr":0.741},{"name":"36.5% CSP+City[ours]","fppi":0.00358,"mr":0.663},{"name":"36.5% CSP+City[ours]","fppi":0.00692,"mr":0.606},{"name":"36.5% CSP+City[ours]","fppi":0.0134,"mr":0.554},{"name":"36.5% CSP+City[ours]","fppi":0.0258,"mr":0.496},{"name":"36.5% CSP+City[ours]","fppi":0.0383,"mr":0.485},{"name":"36.5% CSP+City[ours]","fppi":0.0739,"mr":0.443},{"name":"36.5% CSP+City[ours]","fppi":0.143,"mr":0.396},{"name":"36.5% CSP+City[ours]","fppi":0.241,"mr":0.332},{"name":"36.5% CSP+City[ours]","fppi":0.314,"mr":0.277},{"name":"36.5% CSP+City[ours]","fppi":0.466,"mr":0.253},{"name":"36.5% CSP+City[ours]","fppi":0.692,"mr":0.227}
 ]
}
}
